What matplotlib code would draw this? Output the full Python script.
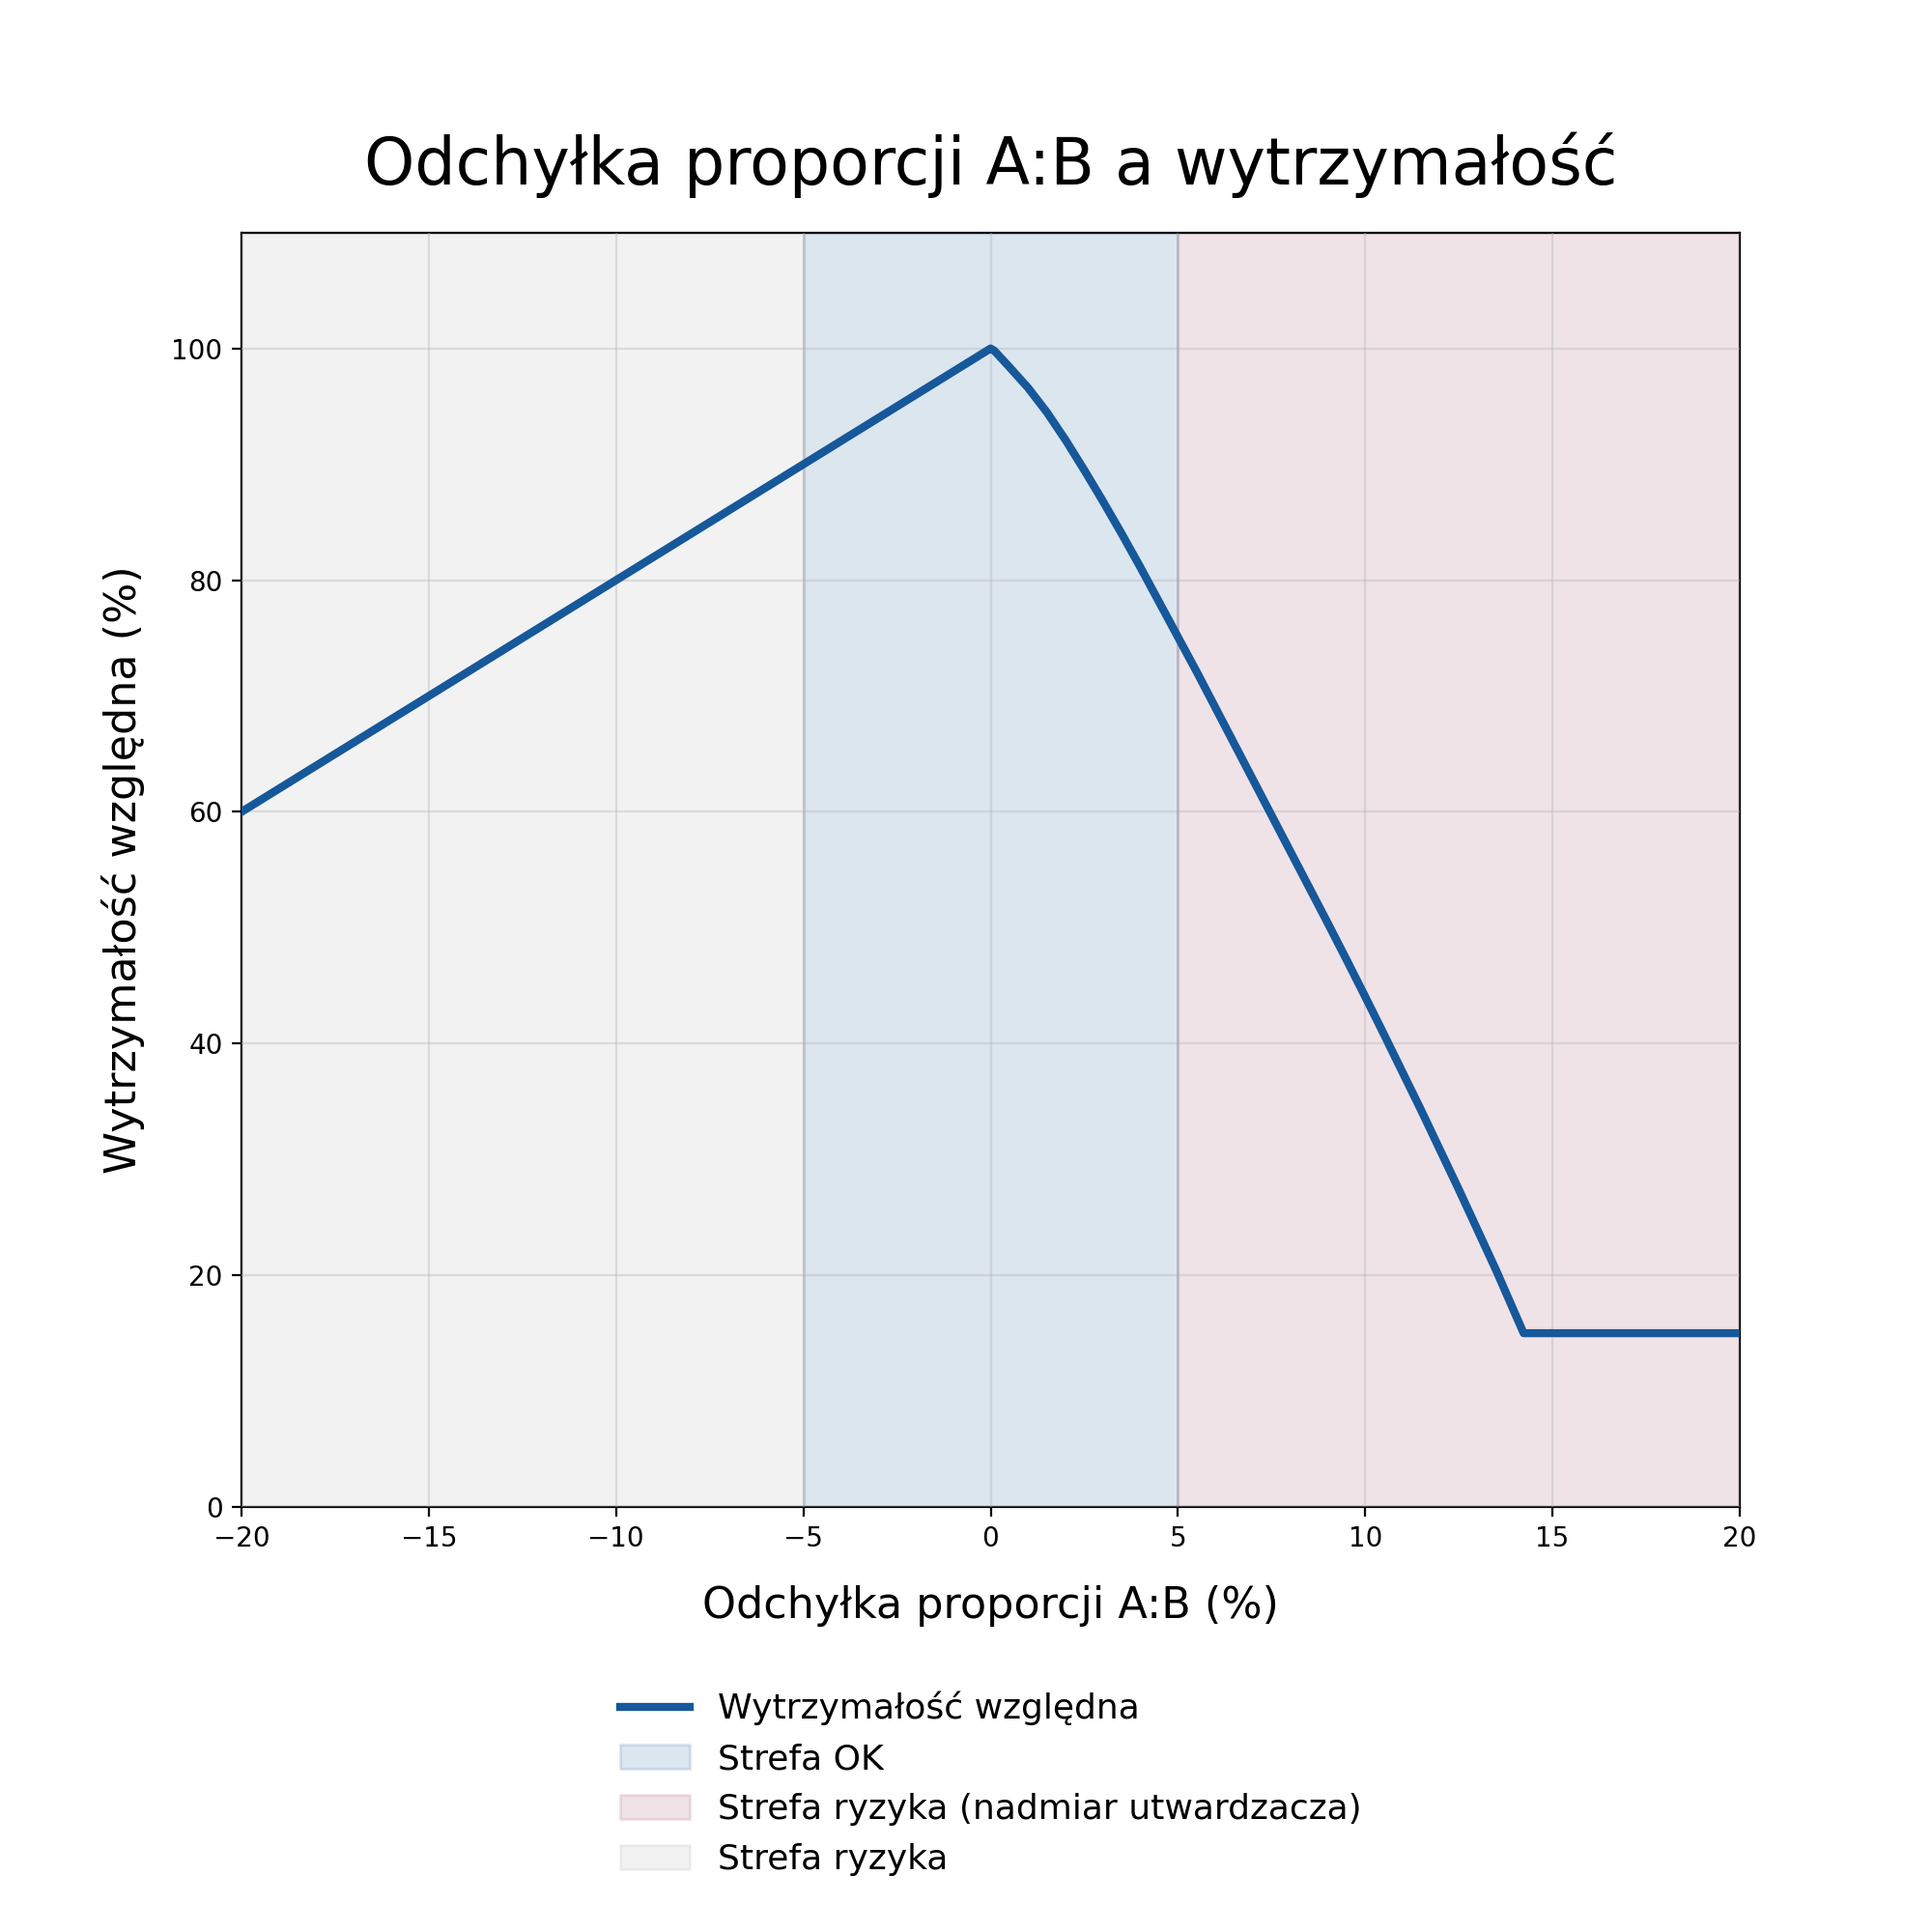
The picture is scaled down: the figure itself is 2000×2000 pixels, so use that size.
import matplotlib
matplotlib.use("Agg")
import matplotlib.pyplot as plt

# odchylka proporcji A:B (%) i wytrzymalosc wzgledna (%)
odchylka = [-20, -10, 0, 0.1, 0.5, 1, 1.5, 2, 2.5, 3, 3.5, 4, 4.5, 5, 5.5, 6, 6.5, 7, 7.5,
            8, 8.5, 9, 9.5, 10, 10.5, 11, 11.5, 12, 12.5, 13, 13.5, 14, 14.23, 20]
wytrzymalosc = [60, 80, 100, 99.8, 98.4, 96.6, 94.5, 92.1, 89.5, 86.8, 84.0, 81.1, 78.1,
                75.1, 72.1, 69.0, 65.9, 62.8, 59.7, 56.6, 53.5, 50.4, 47.25, 44.05, 40.8,
                37.5, 34.2, 30.8, 27.4, 23.9, 20.4, 16.7, 15.0, 15.0]

strefa_ok = (-5, 5)
strefa_nadmiar = (5, 20)
strefa_ryzyka = (-20, -5)

x_ticks = [-20, -15, -10, -5, 0, 5, 10, 15, 20]
y_ticks = [0, 20, 40, 60, 80, 100]

kolor_linii = "#16589a"

fig = plt.figure(figsize=(10, 10), dpi=200)
ax = fig.add_axes([0.125, 0.22, 0.7755, 0.6596])

ax.axvspan(*strefa_ok, color=kolor_linii, alpha=0.15, label="Strefa OK")
ax.axvspan(*strefa_nadmiar, color="#821e48", alpha=0.12,
           label="Strefa ryzyka (nadmiar utwardzacza)")
ax.axvspan(*strefa_ryzyka, color="#808080", alpha=0.1, label="Strefa ryzyka")

ax.plot(odchylka, wytrzymalosc, color=kolor_linii, linewidth=3,
        label="Wytrzymałość względna", zorder=5)

ax.set_xlim(-20, 20)
ax.set_ylim(0, 110)
ax.set_xticks(x_ticks)
ax.set_yticks(y_ticks)
ax.grid(True, color="#b0b0b0", alpha=0.35, linewidth=0.8)
ax.set_axisbelow(False)

ax.set_title("Odchyłka proporcji A:B a wytrzymałość", fontsize=24, pad=18)
ax.set_xlabel("Odchyłka proporcji A:B (%)", fontsize=16, labelpad=12)
ax.set_ylabel("Wytrzymałość względna (%)", fontsize=16, labelpad=10)

handles, labels = ax.get_legend_handles_labels()
order = [3, 0, 1, 2]
ax.legend([handles[i] for i in order], [labels[i] for i in order],
          loc="upper center", bbox_to_anchor=(0.5, -0.12), frameon=False,
          fontsize=13)

fig.savefig("out.png", dpi=200)
